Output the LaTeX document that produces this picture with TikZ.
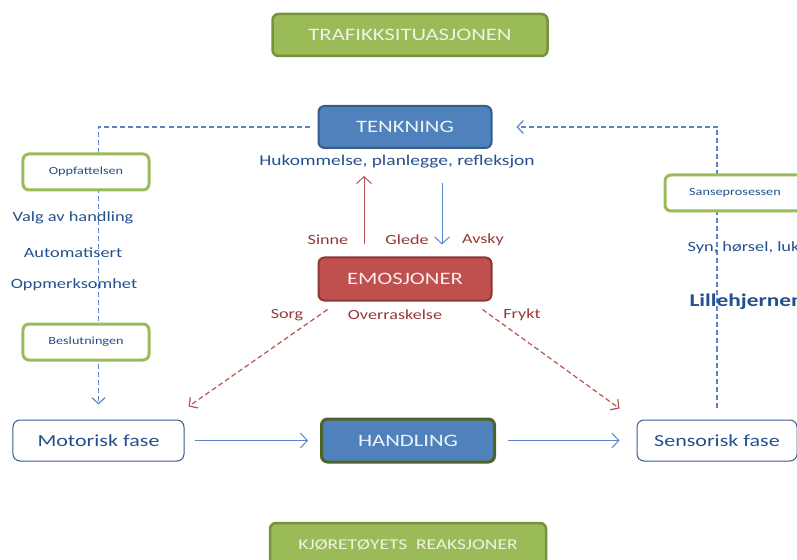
\documentclass[tikz,border=0pt]{standalone}
\usepackage{fontspec}
\setmainfont{Carlito}[FakeStretch=1.3]
\usetikzlibrary{arrows.meta}

\definecolor{boxgreen}{HTML}{9BBB59}
\definecolor{boxgreenline}{HTML}{76923C}
\definecolor{boxblue}{HTML}{4F81BD}
\definecolor{boxblueline}{HTML}{385D8A}
\definecolor{boxred}{HTML}{C0504D}
\definecolor{boxredline}{HTML}{8C3836}
\definecolor{handlingline}{HTML}{4F6228}
\definecolor{textblue}{HTML}{24508C}
\definecolor{textred}{HTML}{953735}
\definecolor{lineblue}{HTML}{5B86C4}
\definecolor{linered}{HTML}{B65451}
\definecolor{lighttext}{HTML}{EEF3E4}

\tikzset{
  bigbox/.style={rounded corners=6bp, line width=2bp, minimum height=42bp, font=\fontsize{17.5}{20}\selectfont},
  greenbox/.style={bigbox, fill=boxgreen, draw=boxgreenline, line width=2.5bp, text=lighttext, minimum width=275bp},
  bluebox/.style={bigbox, fill=boxblue, draw=boxblueline, text=white!90!boxblue, minimum width=173bp},
  redbox/.style={bigbox, fill=boxred, draw=boxredline, text=white!90!boxred, minimum width=173bp},
  tagbox/.style={rounded corners=6bp, line width=3bp, draw=boxgreen, fill=white, minimum width=126bp, minimum height=36bp, text=textblue, font=\fontsize{11}{13}\selectfont},
  fasebox/.style={rounded corners=7bp, line width=1bp, draw=boxblueline, fill=white, minimum height=41bp, text=textblue, font=\fontsize{17}{20}\selectfont},
  bluetext/.style={text=textblue, font=\fontsize{15}{17}\selectfont},
  sidetext/.style={text=textblue, font=\fontsize{14.2}{17}\selectfont},
  redtext/.style={text=textred, font=\fontsize{14}{17}\selectfont},
  solidarrow/.style={line width=1bp, -{Straight Barb[length=7bp,width=15bp]}},
  dasharrow/.style={line width=1.2bp, dash pattern=on 5bp off 3bp, -{Straight Barb[length=6bp,width=13bp]}},
}

\begin{document}
\begin{tikzpicture}[x=1bp,y=-1bp]
\useasboundingbox (0,0) rectangle (797,560);
\clip (0,0) rectangle (797,560);

\node[greenbox] (situation) at (410,35) {TRAFIKKSITUASJONEN};
\node[bluebox] (think) at (405,127) {TENKNING};
\node[bluetext] (memory) at (397,162) {Hukommelse, planlegge, refleksjon};
\node[redbox, minimum height=43bp] (emotion) at (405,279) {EMOSJONER};

\node[redtext] (anger) at (328,240) {Sinne};
\node[redtext] (joy) at (407,240) {Glede};
\node[redtext] (disgust) at (483,240) {Avsky};
\node[redtext] (sorrow) at (287,315) {Sorg};
\node[redtext] (surprise) at (395,315) {Overraskelse};
\node[redtext] (fear) at (522,315) {Frykt};

\node[fasebox, minimum width=171bp] (motor) at (98.5,440.5) {Motorisk fase};
\node[bluebox, draw=handlingline, line width=3bp, minimum height=43bp] (action) at (408,440.5) {HANDLING};
\node[fasebox, minimum width=160bp] (sensor) at (717,440.5) {Sensorisk fase};
\node[greenbox, minimum width=276bp, minimum height=44bp, font=\fontsize{15}{17}\selectfont] (vehicle) at (408,545) {KJØRETØYETS\ \ REAKSJONER};

\draw[dasharrow, draw=lineblue, shorten <=8bp, shorten >=15bp] (think.west) -| (motor.north);
\draw[dasharrow, draw=lineblue, shorten <=12bp, shorten >=24bp] (sensor.north) |- (think.east);

\node[tagbox] (perceive) at (86,172) {Oppfattelsen};
\node[tagbox] (decide) at (86,342) {Beslutningen};
\node[tagbox, minimum width=140bp] (sense) at (735,193) {Sanseprosessen};

\node[sidetext] (choice) at (73,218) {Valg av handling};
\node[sidetext] (automatic) at (73,253) {Automatisert};
\node[sidetext] (attention) at (74,285) {Oppmerksomhet};
\node[sidetext, anchor=west] (senses) at (684,248) {Syn, hørsel, lukt};
\node[bluetext, anchor=west, font=\fontsize{18}{20}\selectfont\bfseries] (cerebellum) at (686,302) {Lillehjernen};

\draw[solidarrow, draw=linered, shorten <=12bp, shorten >=4bp] ([xshift=-41bp]emotion.north) -- ([xshift=-41bp]emotion.north |- memory.south);
\draw[solidarrow, draw=lineblue, shorten <=11bp, shorten >=12bp] ([xshift=37bp]emotion.north |- memory.south) -- ([xshift=37bp]emotion.north);

\draw[dasharrow, draw=linered] ([shift={(10,8)}]emotion.south west) -- ([shift={(4,-13)}]motor.north east);
\draw[dasharrow, draw=linered] ([shift={(-10,8)}]emotion.south east) -- ([shift={(-17,-11)}]sensor.north west);

\draw[solidarrow, draw=lineblue, shorten <=10bp, shorten >=12bp] (motor) -- (action);
\draw[solidarrow, draw=lineblue, shorten <=12bp, shorten >=17bp] (action) -- (sensor);

\end{tikzpicture}
\end{document}
